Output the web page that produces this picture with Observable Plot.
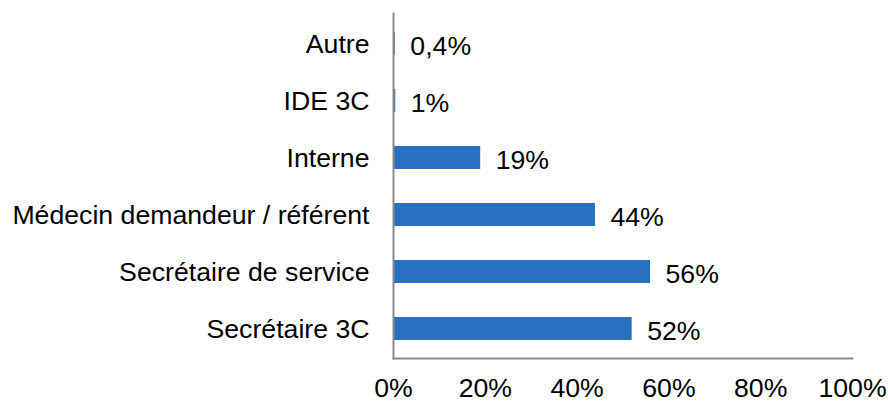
<!DOCTYPE html>
<html>
<head>
<meta charset="utf-8">
<script src="https://cdn.jsdelivr.net/npm/d3@7"></script>
<script src="https://cdn.jsdelivr.net/npm/@observablehq/plot@0.6"></script>
<style>
  html, body { margin: 0; padding: 0; background: #fff; }
  svg { display: block; overflow: visible; }
</style>
</head>
<body>
<div id="chart"></div>
<script>
const categories = ["Autre", "IDE 3C", "Interne", "Médecin demandeur / référent", "Secrétaire de service", "Secrétaire 3C"];
const values = [0.004, 0.005, 0.19, 0.44, 0.56, 0.52];
const valueLabels = ["0,4%", "1%", "19%", "44%", "56%", "52%"];
const xTicks = [0, 0.2, 0.4, 0.6, 0.8, 1];
const xTickLabels = ["0%", "20%", "40%", "60%", "80%", "100%"];

const data = categories.map((c, i) => ({category: c, value: values[i], label: valueLabels[i]}));
const FS = 26.67;

const chart = Plot.plot({
  width: 888,
  height: 401,
  marginTop: 13,
  marginBottom: 43,
  marginLeft: 393,
  marginRight: 36,
  style: {fontFamily: "'Liberation Sans', Arial, sans-serif", fontSize: FS + "px", color: "#000", background: "#fff"},
  x: {domain: [0, 1]},
  y: {domain: categories, paddingInner: 0.6, paddingOuter: 0.3},
  marks: [
    Plot.barX(data, {x: "value", y: "category", fill: "#2771C0"}),
    Plot.text(data, {x: "value", y: "category", text: "label", textAnchor: "start", dx: 15, dy: 2, fill: "#000", fontSize: FS}),
    Plot.frame({anchor: "left", stroke: "#8a8a8a", strokeWidth: 2, strokeOpacity: 1}),
    Plot.frame({anchor: "bottom", stroke: "#8a8a8a", strokeWidth: 2, strokeOpacity: 1}),
    Plot.axisX({ticks: xTicks, tickFormat: (d) => xTickLabels[xTicks.indexOf(d)], tickSize: 0, tickPadding: 20, label: null, fontSize: FS, fill: "#000"}),
    Plot.axisY({tickSize: 0, tickPadding: 24, label: null, fontSize: FS, fill: "#000"})
  ]
});
document.getElementById("chart").appendChild(chart);
</script>
</body>
</html>
